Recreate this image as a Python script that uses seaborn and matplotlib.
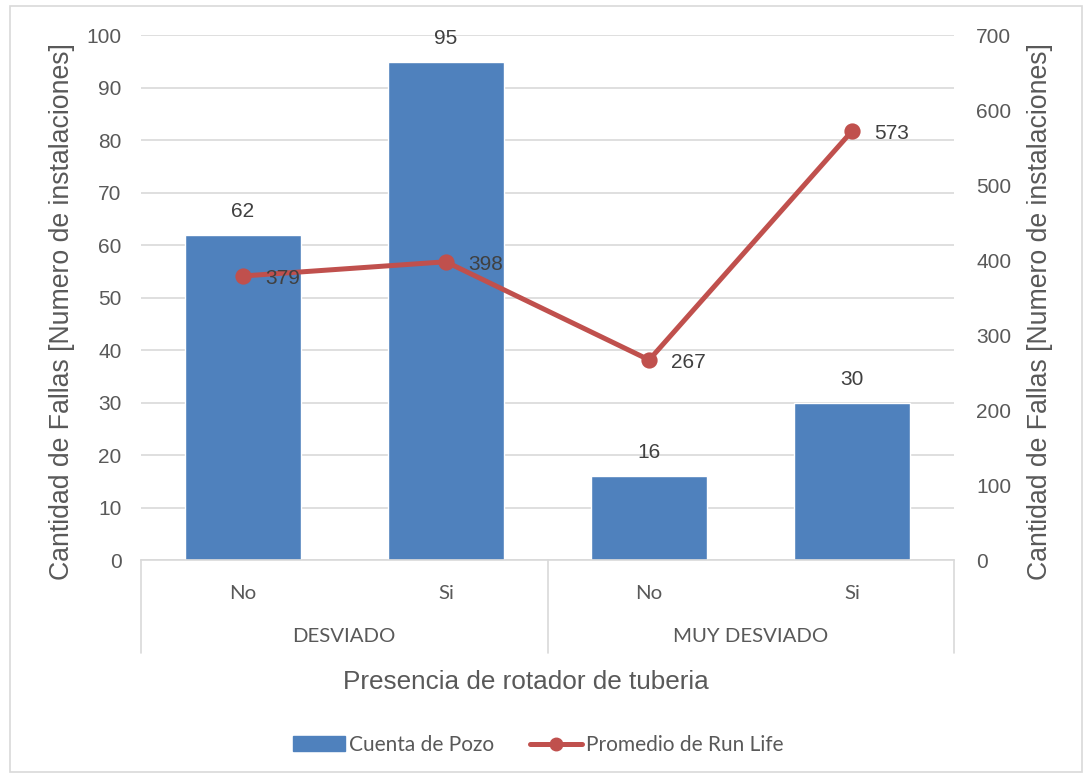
import numpy as np
import pandas as pd
import matplotlib
matplotlib.use("Agg")
import matplotlib.pyplot as plt
from matplotlib.lines import Line2D
from matplotlib.patches import Patch, Rectangle
import matplotlib.transforms as mtransforms
import seaborn as sns

# ---- data ----
grupos = ["DESVIADO", "DESVIADO", "MUY DESVIADO", "MUY DESVIADO"]
rotador = ["No", "Si", "No", "Si"]
cuenta_pozo = [62, 95, 16, 30]
run_life = [379, 398, 267, 573]
grupo_labels = ["DESVIADO", "MUY DESVIADO"]
left_ticks = list(range(0, 101, 10))
right_ticks = list(range(0, 701, 100))

BLUE = "#4F81BD"
RED = "#C0504D"
GRID = "#D9D9D9"
TXT = "#595959"
LBL = "#404040"

sns.set_style("white")
plt.rcParams["font.family"] = ["Liberation Sans", "DejaVu Sans"]

df = pd.DataFrame({
    "clave": [f"{g}|{r}" for g, r in zip(grupos, rotador)],
    "grupo": grupos,
    "rotador": rotador,
    "cuenta": cuenta_pozo,
    "run_life": run_life,
})
orden = list(df["clave"])

fig = plt.figure(figsize=(10.86, 7.78), dpi=100)
ax = fig.add_axes([0.1298, 0.2802, 0.7487, 0.6742])

sns.barplot(data=df, x="clave", y="cuenta", order=orden, color=BLUE,
            saturation=1, width=0.57, ax=ax, zorder=2)
ax.set_ylim(0, 100)
ax.set_yticks(left_ticks)
ax.set_xlim(-0.5, len(orden) - 0.5)
ax.grid(axis="y", color=GRID, linewidth=1.2, zorder=0)
ax.set_axisbelow(True)
for s in ["top", "left", "right"]:
    ax.spines[s].set_visible(False)
ax.spines["bottom"].set_color(GRID)
ax.spines["bottom"].set_linewidth(1.2)
ax.tick_params(axis="y", length=0, labelsize=15, labelcolor=TXT, pad=14)
ax.tick_params(axis="x", length=0, pad=18)
ax.set_xticks(range(len(orden)))
ax.set_xticklabels(rotador, fontsize=14.7, color=TXT, family=["Lato", "DejaVu Sans"])
ax.set_xlabel("")
ax.set_ylabel("Cantidad de Fallas [Numero de instalaciones]", fontsize=19.2,
              color=TXT)
ax.yaxis.set_label_coords(-0.081, 0.473)

for p, v in zip(ax.patches, cuenta_pozo):
    ax.annotate(f"{v}", (p.get_x() + p.get_width() / 2, v),
                xytext=(0, 10), textcoords="offset points",
                ha="center", va="bottom", fontsize=15, color=LBL)

# secondary axis with the run life line
ax2 = ax.twinx()
sns.pointplot(data=df, x="clave", y="run_life", order=orden, color=RED,
              markers="o", markersize=9, linewidth=3.6, ax=ax2)
ax2.set_ylim(0, 700)
ax2.set_yticks(right_ticks)
ax2.set_xlim(-0.5, len(orden) - 0.5)
for s in ["top", "left", "right", "bottom"]:
    ax2.spines[s].set_visible(False)
ax2.tick_params(axis="y", length=0, labelsize=15, labelcolor=TXT, pad=16)
ax2.set_ylabel("Cantidad de Fallas [Numero de instalaciones]", fontsize=19.2,
               color=TXT)
ax2.yaxis.set_label_coords(1.090, 0.473)
ax2.set_xlabel("")
ax2.grid(False)

for i, v in enumerate(run_life):
    ax2.annotate(f"{v}", (i, v), xytext=(16, -2), textcoords="offset points",
                 ha="left", va="center", fontsize=15, color=LBL)

# multi-level category axis
trans = mtransforms.blended_transform_factory(ax.transData, ax.transAxes)
ybot = -0.1773
n = len(orden)
bounds = [-0.5]
for i in range(1, n):
    if grupos[i] != grupos[i - 1]:
        bounds.append(i - 0.5)
bounds.append(n - 0.5)
for b in bounds:
    ax.add_line(Line2D([b, b], [0, ybot], transform=trans, color=GRID,
                       linewidth=1.2, clip_on=False))
for g in grupo_labels:
    idx = [i for i, gg in enumerate(grupos) if gg == g]
    ax.text(np.mean(idx), -0.146, g, transform=trans, ha="center", va="center",
            fontsize=14.7, color=TXT, family=["Lato", "DejaVu Sans"])

fig.text(0.4845, 1 - 682 / 778, "Presencia de rotador de tuberia", ha="center",
         va="center", fontsize=18.8, color=TXT)

# legend
handles = [
    Patch(facecolor=BLUE, edgecolor=BLUE, label="Cuenta de Pozo"),
    Line2D([0], [0], color=RED, linewidth=3.6, marker="o", markersize=9,
           label="Promedio de Run Life"),
]
fig.legend(handles=handles, loc="center", bbox_to_anchor=(0.4955, 1 - 745 / 778),
           ncol=2, frameon=False, handlelength=2.5, handletextpad=0.2,
           columnspacing=1.7, prop={"family": ["Lato", "DejaVu Sans"], "size": 15},
           labelcolor=TXT)

# chart border
fig.patches.append(Rectangle((10 / 1086, 6 / 778), 1072 / 1086, 766 / 778,
                             transform=fig.transFigure, fill=False,
                             edgecolor=GRID, linewidth=1.2))

fig.savefig("out.png", dpi=100)
